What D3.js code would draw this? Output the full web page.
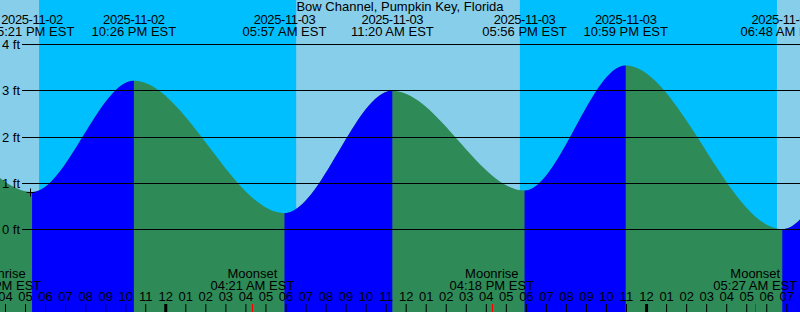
<!DOCTYPE html>
<html>
<head>
<meta charset="utf-8">
<script src="https://cdn.jsdelivr.net/npm/d3@7"></script>
<style>
  body { margin: 0; background: #fff; }
  svg { display: block; font-family: "Liberation Sans", Arial, sans-serif; font-size: 13px; }
</style>
</head>
<body>
<svg id="chart" width="800" height="312"></svg>
<script>
// tide extremes (EST wall time); the first two and last two sit outside the view
const tideTimes = ["2025-11-02 04:50", "2025-11-02 10:40", "2025-11-02 17:21", "2025-11-02 22:26",
  "2025-11-03 05:57", "2025-11-03 11:20", "2025-11-03 17:56", "2025-11-03 22:59",
  "2025-11-04 06:48", "2025-11-04 12:20", "2025-11-04 18:40"];
const tideHeights = [0.3, 2.9, 0.81, 3.22, 0.35, 3.0, 0.84, 3.55, 0.0, 3.1, 0.9];

const sunrises = ["2025-11-02 06:31", "2025-11-03 06:32", "2025-11-04 06:32"];
const sunsets = ["2025-11-02 17:42", "2025-11-03 17:42", "2025-11-04 17:42"];

const moonTimes = ["2025-11-02 15:42", "2025-11-03 04:21", "2025-11-03 16:18", "2025-11-04 05:27"];
const moonEvents = ["Moonrise", "Moonset", "Moonrise", "Moonset"];

const feetTicks = [0, 1, 2, 3, 4];
const nowMark = { time: "2025-11-02 17:14", height: 0.8 };
const title = "Bow Channel, Pumpkin Key, Florida";

const W = 800, H = 312;
const parse = d3.utcParse("%Y-%m-%d %H:%M");

const svg = d3.select("#chart");

let x = d3.scaleUtc()
  .domain([parse("2025-11-02 15:45"), parse("2025-11-04 07:41")])
  .range([0, W]);

let y = d3.scaleLinear()
  .domain([0, 4])
  .range([229.3, 44.7]);

/*
  sky: night everywhere, day bands on top
*/
svg.append("rect").attr("width", W).attr("height", H).attr("fill", "#00bfff");

svg.selectAll(".day")
  .data(sunrises.map((d, i) => [parse(d), parse(sunsets[i])]))
  .enter()
  .append("rect")
  .attr("class", "day")
  .attr("x", d => Math.max(0, x(d[0])))
  .attr("width", d => Math.max(0, Math.min(W, x(d[1])) - Math.max(0, x(d[0]))))
  .attr("y", 0)
  .attr("height", H)
  .attr("fill", "#87ceeb");

/*
  tide curve, green when falling, blue when rising
*/
let tide = tideTimes.map((t, i) => ({ t: parse(t), h: tideHeights[i] }));

let area = d3.area()
  .x(d => x(d.t))
  .y0(H)
  .y1(d => y(d.h))
  .curve(d3.curveMonotoneX);

svg.append("path").datum(tide).attr("d", area).attr("fill", "#2e8b57");

let defs = svg.append("defs");
let rising = [];
for (let i = 0; i < tide.length - 1; i++) {
  if (tide[i + 1].h > tide[i].h) rising.push([tide[i].t, tide[i + 1].t]);
}
defs.append("clipPath").attr("id", "rise")
  .selectAll("rect")
  .data(rising)
  .enter()
  .append("rect")
  .attr("x", d => x(d[0]))
  .attr("width", d => x(d[1]) - x(d[0]))
  .attr("y", 0)
  .attr("height", H);

svg.append("path").datum(tide).attr("d", area).attr("fill", "#0000ff")
  .attr("clip-path", "url(#rise)");

// feet grid
svg.selectAll(".grid")
  .data(feetTicks)
  .enter()
  .append("line")
  .attr("x1", 22).attr("x2", W)
  .attr("y1", d => Math.floor(y(d)) + 0.5)
  .attr("y2", d => Math.floor(y(d)) + 0.5)
  .attr("stroke", "#000")
  .attr("stroke-width", 1);

svg.selectAll(".ftlab")
  .data(feetTicks)
  .enter()
  .append("text")
  .attr("x", 20)
  .attr("y", d => Math.floor(y(d)) + 4.5)
  .attr("text-anchor", "end")
  .text(d => d + " ft");

/*
  labels
*/
svg.append("text").attr("x", 400).attr("y", 11).attr("text-anchor", "middle").text(title);

let fmtDate = d3.utcFormat("%Y-%m-%d");
let fmtTime = d3.utcFormat("%I:%M %p EST");

let shown = tide.filter(d => x(d.t) > -60 && x(d.t) < W + 60);
let tl = svg.selectAll(".tl").data(shown).enter().append("g")
  .attr("transform", d => "translate(" + x(d.t) + ",0)")
  .attr("text-anchor", "middle");
tl.append("text").attr("y", 24).attr("letter-spacing", -0.4).text(d => fmtDate(d.t));
tl.append("text").attr("y", 36).text(d => fmtTime(d.t));

let moon = moonTimes.map((t, i) => ({ t: parse(t), name: moonEvents[i] }));
let ml = svg.selectAll(".ml").data(moon).enter().append("g")
  .attr("transform", d => "translate(" + x(d.t) + ",0)")
  .attr("text-anchor", "middle");
ml.append("text").attr("y", 278).text(d => d.name);
ml.append("text").attr("y", 290).text(d => fmtTime(d.t));

// hour axis along the bottom
let hourScale = x.copy().domain([x.invert(-20), x.invert(W + 20)]).range([-20, W + 20]);
let axis = d3.axisTop(hourScale)
  .ticks(d3.utcHour.every(1))
  .tickFormat(d3.utcFormat("%I"))
  .tickSize(8)
  .tickPadding(3);

let ax = svg.append("g").attr("transform", "translate(0," + H + ")").call(axis);
ax.select(".domain").remove();
ax.selectAll("text").attr("font-size", 13).attr("font-family", "Liberation Sans, Arial, sans-serif").attr("fill", "#000");
ax.selectAll("line").attr("stroke", "#000");
ax.selectAll(".tick").filter(d => d.getUTCHours() === 0)
  .select("line").attr("stroke-width", 3);

svg.selectAll(".mt").data(moon).enter().append("line")
  .attr("x1", d => Math.round(x(d.t)) + 0.5)
  .attr("x2", d => Math.round(x(d.t)) + 0.5)
  .attr("y1", H - 8).attr("y2", H)
  .attr("stroke", "#ff0000");

// plus marker on the curve
let px = Math.round(x(parse(nowMark.time))) + 0.5;
let py = Math.round(y(nowMark.height)) + 0.5;
svg.append("path")
  .attr("d", `M${px - 4},${py}H${px + 4}M${px},${py - 4}V${py + 4}`)
  .attr("stroke", "#000")
  .attr("fill", "none");
</script>
</body>
</html>
